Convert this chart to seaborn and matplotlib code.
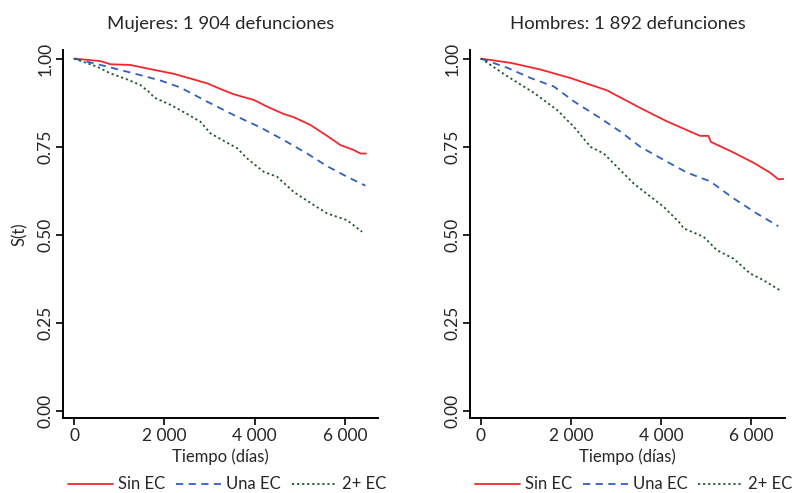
import matplotlib
matplotlib.use("Agg")
import matplotlib.pyplot as plt
import seaborn as sns
import pandas as pd
from matplotlib.ticker import FuncFormatter

sns.set_theme(style="ticks")
plt.rcParams['font.family'] = ['Lato', 'DejaVu Sans']

titles = ["Mujeres: 1 904 defunciones", "Hombres: 1 892 defunciones"]
series_names = ["Sin EC", "Una EC", "2+ EC"]

# Mujeres
m_sin_t = [0, 582, 806, 1248, 1617, 2206, 2946, 3240, 3535, 3978, 4275, 4643, 4864, 5234, 5604, 5898, 6193, 6341, 6467]
m_sin_s = [1.0, 0.993, 0.984, 0.982, 0.972, 0.957, 0.930, 0.914, 0.899, 0.883, 0.864, 0.843, 0.834, 0.812, 0.781, 0.755, 0.741, 0.731, 0.731]
m_una_t = [0, 582, 1321, 1912, 2354, 2946, 3535, 4126, 4643, 5160, 5604, 6047, 6452]
m_una_s = [1.0, 0.982, 0.958, 0.938, 0.918, 0.878, 0.840, 0.805, 0.769, 0.731, 0.695, 0.665, 0.640]
m_dos_t = [0, 509, 804, 1174, 1468, 1690, 1763, 2133, 2503, 2797, 3019, 3610, 3831, 4200, 4496, 4864, 5307, 5604, 6047, 6379]
m_dos_s = [1.0, 0.977, 0.958, 0.941, 0.925, 0.902, 0.890, 0.869, 0.843, 0.821, 0.788, 0.746, 0.717, 0.679, 0.665, 0.622, 0.585, 0.561, 0.542, 0.509]

# Hombres
h_sin_t = [0, 658, 1323, 1988, 2801, 3541, 4133, 4870, 5055, 5109, 5610, 6053, 6423, 6608, 6718]
h_sin_s = [1.0, 0.988, 0.969, 0.945, 0.910, 0.860, 0.822, 0.781, 0.781, 0.764, 0.734, 0.705, 0.677, 0.658, 0.659]
h_una_t = [0, 585, 1102, 1619, 2062, 2654, 3098, 3541, 4058, 4576, 5093, 5610, 6128, 6608]
h_una_s = [1.0, 0.974, 0.945, 0.921, 0.879, 0.831, 0.793, 0.750, 0.713, 0.677, 0.652, 0.604, 0.561, 0.525]
h_dos_t = [0, 142, 585, 1175, 1694, 2062, 2432, 2727, 3392, 4058, 4428, 4502, 4945, 5242, 5610, 5980, 6275, 6645]
h_dos_s = [1.0, 0.988, 0.950, 0.903, 0.854, 0.807, 0.750, 0.731, 0.646, 0.580, 0.533, 0.519, 0.495, 0.457, 0.433, 0.391, 0.372, 0.343]

x_ticks = [0, 2000, 4000, 6000]
y_ticks = [0.0, 0.25, 0.5, 0.75, 1.0]

colors = ["#f0282d", "#2f5fc4", "#1c5a28"]
styles = ["-", (0, (4, 3)), (0, (1.2, 1.6))]

panels = [
    [(m_sin_t, m_sin_s), (m_una_t, m_una_s), (m_dos_t, m_dos_s)],
    [(h_sin_t, h_sin_s), (h_una_t, h_una_s), (h_dos_t, h_dos_s)],
]

fig = plt.figure(figsize=(8, 4.93), dpi=100)
axes_pos = [[0.079, 0.152, 0.394, 0.747], [0.5875, 0.152, 0.394, 0.747]]

for p, (pos, data) in enumerate(zip(axes_pos, panels)):
    ax = fig.add_axes(pos)
    for k, (t, s) in enumerate(data):
        df = pd.DataFrame({"t": t, "s": s})
        sns.lineplot(data=df, x="t", y="s", ax=ax, color=colors[k],
                     linestyle=styles[k], linewidth=1.3, label=series_names[k],
                     estimator=None, sort=False)
    ax.set_xlim(-244, 6740 if p == 0 else 6760)
    ax.set_ylim(-0.019, 1.025)
    ax.set_xticks(x_ticks)
    ax.set_yticks(y_ticks)
    ax.xaxis.set_major_formatter(FuncFormatter(lambda v, _: f"{int(v):,}".replace(",", " ")))
    ax.yaxis.set_major_formatter(FuncFormatter(lambda v, _: f"{v:.2f}"))
    ax.tick_params(axis="y", labelrotation=90, labelsize=12.5, length=5, width=1.2, color="black", pad=2)
    ax.tick_params(axis="x", labelsize=12.5, length=5, width=1.2, color="black", pad=2)
    for lab in ax.get_yticklabels():
        lab.set_verticalalignment("center")
    sns.despine(ax=ax)
    for sp in ("left", "bottom"):
        ax.spines[sp].set_linewidth(1.4)
        ax.spines[sp].set_color("black")
    ax.set_title(titles[p], fontsize=13.3, pad=15)
    ax.set_xlabel("Tiempo (días)", fontsize=12, labelpad=3)
    ax.set_ylabel("S(t)" if p == 0 else "", fontsize=12, labelpad=7)
    ax.legend(loc="center", bbox_to_anchor=(0.52, -0.18), ncol=3,
              frameon=False, fontsize=12, handlelength=2.7, columnspacing=0.65,
              handletextpad=0.3, borderaxespad=0, borderpad=0)

fig.savefig("out.png", dpi=100, facecolor="white")
